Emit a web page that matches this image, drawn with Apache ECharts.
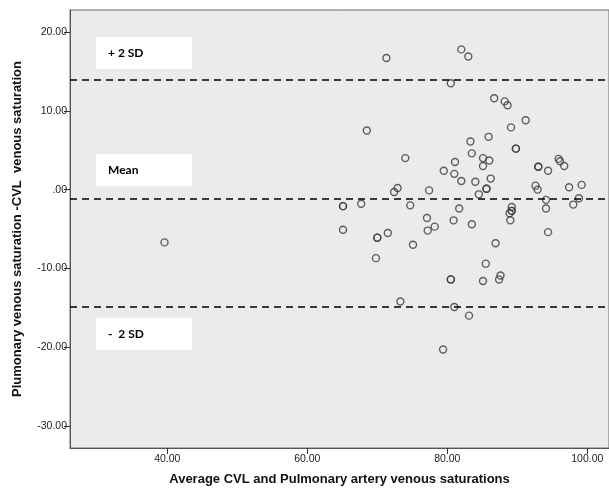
<!DOCTYPE html>
<html>
<head>
<meta charset="utf-8">
<script src="https://cdn.jsdelivr.net/npm/echarts@6/dist/echarts.min.js"></script>
<style>
html,body{margin:0;padding:0;background:#fff;}
#chart{width:609px;height:495px;}
</style>
</head>
<body>
<div id="chart"></div>
<script>
// Average of CVL and pulmonary artery saturations (x)
var avgSat = [39.6, 71.3, 82.0, 83.0, 80.5, 86.7, 88.2, 88.6, 91.2, 89.1,
  68.5, 83.3, 85.9, 89.8, 89.8, 74.0, 83.5, 81.1, 85.1, 86.0,
  85.1, 95.9, 96.1, 96.7, 93.0, 93.0, 94.4, 79.5, 81.0, 82.0,
  86.2, 84.0, 85.6, 85.6, 84.5, 77.4, 72.9, 72.4, 92.6, 92.9,
  97.4, 99.2, 98.8, 98.0, 94.1, 94.1, 65.1, 65.1, 67.7, 74.7,
  81.7, 89.2, 89.2, 89.2, 88.9, 89.0, 77.1, 80.9, 83.5, 78.2,
  77.2, 65.1, 71.5, 70.0, 70.0, 75.1, 86.9, 69.8, 85.5, 94.4,
  80.5, 80.5, 85.1, 87.6, 87.4, 73.3, 81.0, 83.1, 79.4];
// Difference: pulmonary venous saturation - CVL venous saturation (y)
var diffSat = [-6.7, 16.7, 17.8, 16.9, 13.5, 11.6, 11.2, 10.7, 8.8, 7.9,
  7.5, 6.1, 6.7, 5.2, 5.2, 4.0, 4.6, 3.5, 4.0, 3.7,
  3.0, 3.9, 3.6, 3.0, 2.9, 2.9, 2.4, 2.4, 2.0, 1.1,
  1.4, 1.0, 0.1, 0.1, -0.6, -0.1, 0.2, -0.3, 0.5, 0.0,
  0.3, 0.6, -1.1, -1.9, -1.3, -2.4, -2.1, -2.1, -1.8, -2.0,
  -2.4, -2.2, -2.7, -2.7, -3.0, -3.9, -3.6, -3.9, -4.4, -4.7,
  -5.2, -5.1, -5.5, -6.1, -6.1, -7.0, -6.8, -8.7, -9.4, -5.4,
  -11.4, -11.4, -11.6, -10.9, -11.4, -14.2, -14.9, -16.0, -20.3];
// Reference lines
var refNames = ['+ 2 SD', 'Mean', '-  2 SD'];
var refValues = [14.0, -1.2, -14.9];
// Ticks
var xTicks = [40, 60, 80, 100];
var yTicks = [-30, -20, -10, 0, 10, 20];

function fmt(v) {
  var s = Math.abs(v).toFixed(2);
  if (s.indexOf('0.') === 0) s = s.substring(1);
  return (v < 0 ? '-' : '') + s;
}

var points = avgSat.map(function (x, i) { return [x, diffSat[i]]; });

var chart = echarts.init(document.getElementById('chart'));
var labelFont = 'Liberation Sans, Arial, sans-serif';

var boxTop = [37, 154, 318];
var graphics = refNames.map(function (n, i) {
  return {
    type: 'group', left: 96, top: boxTop[i], z: 10,
    children: [
      {type: 'rect', shape: {x: 0, y: 0, width: 96, height: 32}, style: {fill: '#ffffff'}},
      {type: 'text', x: 12, y: 16, style: {text: n, fill: '#000', font: 'bold 12px Lato, "Open Sans", sans-serif', verticalAlign: 'middle'}}
    ]
  };
});

chart.setOption({
  animation: false,
  backgroundColor: '#ffffff',
  grid: {left: 70, top: 10, right: 0, bottom: 47, show: true, backgroundColor: '#ebebeb', borderColor: '#6a6a6a', borderWidth: 1},
  xAxis: {
    type: 'value', min: 26.1, max: 103.1,
    name: 'Average CVL and Pulmonary artery venous saturations',
    nameLocation: 'middle', nameGap: 25,
    nameTextStyle: {fontFamily: labelFont, fontWeight: 'bold', fontSize: 13, color: '#111'},
    axisLine: {show: true, onZero: false, lineStyle: {color: '#555', width: 1}},
    axisTick: {show: true, length: 6, customValues: xTicks, lineStyle: {color: '#333'}},
    axisLabel: {customValues: xTicks, formatter: fmt, fontFamily: labelFont, fontSize: 10.5, color: '#222', margin: 6},
    splitLine: {show: false}
  },
  yAxis: {
    type: 'value', min: -32.8, max: 22.8,
    name: 'Plumonary venous saturation -CVL  venous saturation',
    nameLocation: 'middle', nameGap: 46,
    nameTextStyle: {fontFamily: labelFont, fontWeight: 'bold', fontSize: 13, color: '#111'},
    axisLine: {show: true, onZero: false, lineStyle: {color: '#555', width: 1}},
    axisTick: {show: true, length: 6, customValues: yTicks, lineStyle: {color: '#333'}},
    axisLabel: {customValues: yTicks, formatter: fmt, fontFamily: labelFont, fontSize: 10.5, color: '#222', margin: 3},
    splitLine: {show: false}
  },
  graphic: graphics,
  series: [{
    type: 'scatter',
    data: points,
    symbol: 'circle',
    symbolSize: 7,
    itemStyle: {color: 'rgba(0,0,0,0)', borderColor: '#3a3a3a', borderWidth: 1.4},
    markLine: {
      silent: true,
      symbol: ['none', 'none'],
      label: {show: false},
      lineStyle: {color: '#000', type: [7, 5], width: 1.5},
      data: refValues.map(function (v) { return {yAxis: v}; })
    }
  }]
});
</script>
</body>
</html>
